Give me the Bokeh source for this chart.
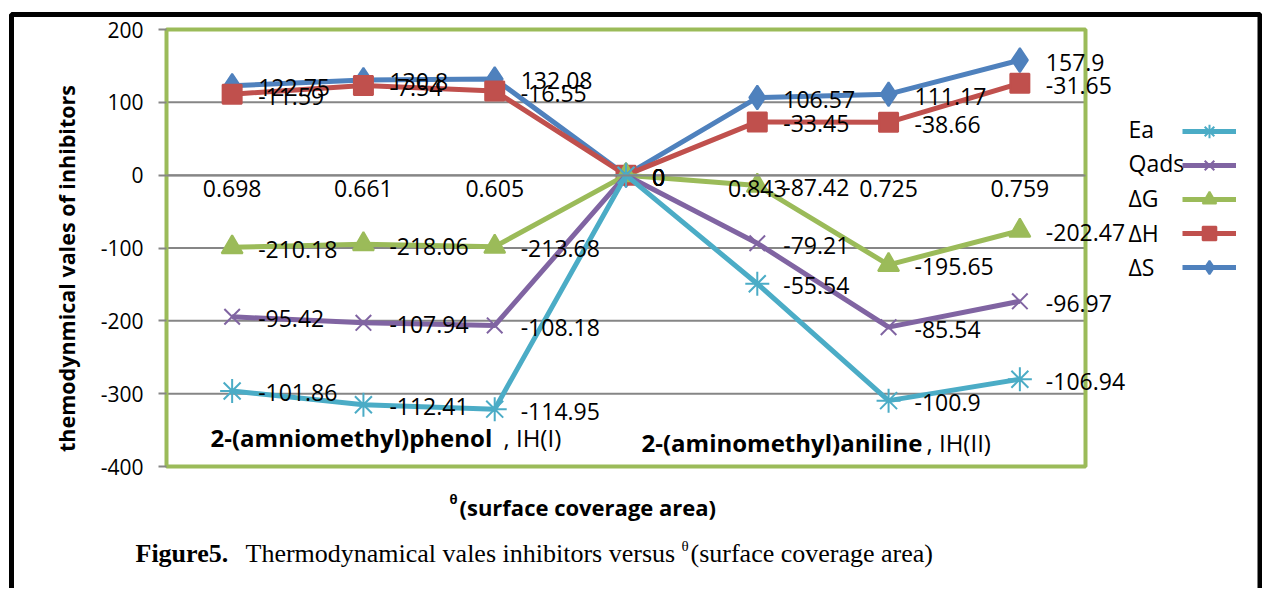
import math
import numpy as np
from bokeh.plotting import figure
from bokeh.models import (Range1d, FixedTicker, Label, LabelSet, ColumnDataSource,
                          Legend, LegendItem)
from bokeh.core.properties import value
from bokeh.embed import file_html
from bokeh.resources import INLINE

# ---------------- data ----------------
theta_labels = ["0.698", "0.661", "0.605", "", "0.843", "0.725", "0.759"]
dS = [122.75, 130.8, 132.08, 0, 106.57, 111.17, 157.9]
dH = [-11.59, -7.54, -16.55, 0, -33.45, -38.66, -31.65]
dG = [-210.18, -218.06, -213.68, 0, -87.42, -195.65, -202.47]
Qads = [-95.42, -107.94, -108.18, 0, -79.21, -85.54, -96.97]
Ea = [-101.86, -112.41, -114.95, 0, -55.54, -100.9, -106.94]
series_names = ["ΔS", "ΔH", "ΔG", "Qads", "Ea"]          # stacking order (Excel stacked line)
series_values = [dS, dH, dG, Qads, Ea]
legend_order = ["Ea", "Qads", "ΔG", "ΔH", "ΔS"]
y_ticks = [-400, -300, -200, -100, 0, 100, 200]

# ---------------- styles ----------------
colors = {"Ea": "#4BACC6", "Qads": "#8064A2", "ΔG": "#9BBB59", "ΔH": "#C0504D", "ΔS": "#4F81BD"}
markers = {"Ea": "asterisk", "Qads": "x", "ΔG": "triangle", "ΔH": "square", "ΔS": "diamond"}
msizes = {"Ea": 24, "Qads": 22, "ΔG": 21, "ΔH": 19, "ΔS": 24}
FONT = "Open Sans"
SERIF = "Liberation Serif"

W, H = 1262, 588
X0P, X7P = 166.0, 1085.0      # page x of category-axis ends
YTP, YBP = 29.0, 466.0        # page y of 200 and -400
XS = (X7P - X0P) / 7.0
YS = (YBP - YTP) / 600.0


def dx(px):
    return (px - X0P) / XS


def dy(py):
    return 200.0 - (py - YTP) / YS


p = figure(width=W, height=H, output_backend="svg", toolbar_location=None, title=None,
           x_range=Range1d(dx(0), dx(W)), y_range=Range1d(dy(H), dy(0)),
           min_border=0, min_border_left=0, min_border_right=0,
           min_border_top=0, min_border_bottom=0)
p.outline_line_color = None
p.background_fill_color = "white"
p.border_fill_color = "white"
p.xgrid.visible = False
p.ygrid.visible = False

# y axis at the left edge of the plot area
ya = p.yaxis[0]
ya.fixed_location = 0
ya.bounds = (-400, 200)
ya.ticker = FixedTicker(ticks=y_ticks)
ya.major_label_overrides = {t: str(t) for t in y_ticks}
ya.axis_line_color = None
ya.major_tick_out = 8
ya.major_tick_in = 0
ya.major_tick_line_color = "#868686"
ya.major_tick_line_width = 2
ya.minor_tick_line_color = None
ya.major_label_standoff = 15
ya.major_label_text_font = FONT
ya.major_label_text_font_size = "21px"
ya.major_label_text_color = "black"

# category axis crossing at y = 0
x_pos = list(np.arange(len(theta_labels)) + 0.5)
xa = p.xaxis[0]
xa.fixed_location = 0
xa.bounds = (0, 7)
xa.ticker = FixedTicker(ticks=[x for x, t in zip(x_pos, theta_labels) if t])
xa.major_label_overrides = {float(x): t for x, t in zip(x_pos, theta_labels) if t}
xa.axis_line_color = "#868686"
xa.axis_line_width = 2
xa.major_tick_out = 0
xa.major_tick_in = 0
xa.minor_tick_line_color = None
xa.major_label_standoff = 5
xa.major_label_text_font = FONT
xa.major_label_text_font_size = "23px"
xa.major_label_text_color = "black"

# outer black frame
p.quad(left=[dx(11)], right=[dx(1259.5)], top=[dy(14)], bottom=[dy(700)],
       fill_color=None, line_color="black", line_width=5)

# gridlines
p.segment(x0=[0] * len(y_ticks), x1=[7] * len(y_ticks), y0=y_ticks, y1=y_ticks,
          line_color="#868686", line_width=2)

# plot-area border
p.quad(left=[0], right=[7], top=[200], bottom=[-400],
       fill_color=None, line_color="#9BBB59", line_width=4)

# stacked series
cum = np.cumsum(np.array(series_values, dtype=float), axis=0)
rends = {}
lab_x, lab_y, lab_t = [], [], []
for name, vals, ys in zip(series_names, series_values, cum):
    c = colors[name]
    lr = p.line(x_pos, list(ys), line_color=c, line_width=5)
    sr = p.scatter(x_pos, list(ys), marker=markers[name], size=msizes[name],
                   line_color=c, fill_color=c, line_width=2)
    rends[name] = [lr, sr]
    for x, y, v in zip(x_pos, ys, vals):
        lab_x.append(x)
        lab_y.append(float(y))
        lab_t.append(f"{v:g}")

src = ColumnDataSource(dict(x=lab_x, y=lab_y, t=lab_t))
p.add_layout(LabelSet(x="x", y="y", text="t", source=src, x_offset=26, y_offset=-2,
                      text_align="left", text_baseline="middle",
                      text_font=value(FONT), text_font_size=value("23px"),
                      text_color="black"))

# legend (text drawn separately to the left of the glyph samples)
GH = 34
items = [LegendItem(label=" ", renderers=rends[n]) for n in legend_order]
legend_top = 131 - GH / 2
legend_h = 5 * GH
legend = Legend(items=items, location=(1182, H - (legend_top + legend_h)),
                glyph_width=54, glyph_height=GH, spacing=0, padding=0, margin=0,
                label_standoff=0, label_width=1, label_text_font_size="1px",
                border_line_color=None, background_fill_alpha=0)
p.add_layout(legend)
for n, yp in zip(legend_order, [128, 162, 197, 232, 266]):
    p.add_layout(Label(x=dx(1128), y=dy(yp), text=n, text_align="left", text_baseline="middle",
                       text_font=FONT, text_font_size="23px", text_color="black"))


def lab(px, py, text, size, style="normal", font=FONT, angle=0.0, align="left"):
    p.add_layout(Label(x=dx(px), y=dy(py), text=text, angle=angle, text_align=align,
                       text_baseline="middle", text_font=font, text_font_style=style,
                       text_font_size=size, text_color="black"))


# in-plot compound names
lab(210, 437, "2-(amniomethyl)phenol", "24px", "bold")
lab(503, 437, ", IH(I)", "24px")
lab(641, 442, "2-(aminomethyl)aniline", "24px", "bold")
lab(926, 442, ", IH(II)", "24px")

# axis titles
lab(66, 268, "themodynmical vales of inhibitors", "21.5px", "bold", angle=math.pi / 2, align="center")
lab(449, 498, "θ", "13px", "bold")
lab(459, 506, "(surface coverage area)", "22px", "bold")

# caption
lab(135, 553, "Figure5.", "26px", "bold", font=SERIF)
lab(245, 553, "Thermodynamical vales inhibitors versus", "26px", font=SERIF)
lab(681, 545, "θ", "15px", font=SERIF)
lab(690, 553, "(surface coverage area)", "26px", font=SERIF)

open("out.html", "w").write(file_html(p, INLINE))
